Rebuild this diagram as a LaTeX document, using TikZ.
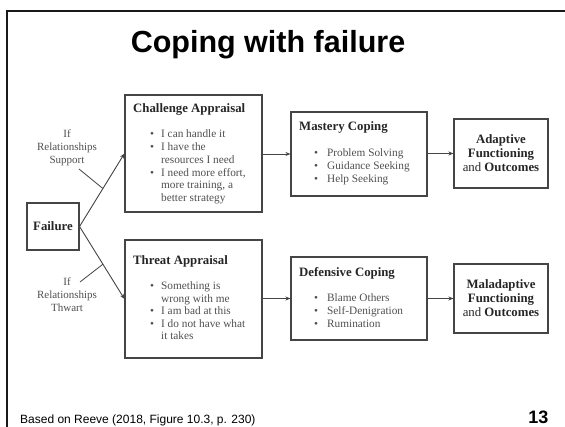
\documentclass[tikz,border=0pt]{standalone}
\usepackage{fontspec}
\setmainfont{Liberation Serif}
\newfontfamily\headsans{Liberation Sans}
\usetikzlibrary{arrows.meta}
\definecolor{inkdark}{HTML}{262626}
\definecolor{inkgray}{HTML}{505050}
\definecolor{boxline}{HTML}{454545}
\tikzset{
  frameline/.style={line width=2pt, draw=black!90},
  stagebox/.style={draw=boxline, line width=1.1pt, inner sep=0pt},
  flowarrow/.style={draw=boxline, line width=0.9pt, -{Stealth[length=5pt,width=4pt]}},
  leader/.style={draw=boxline, line width=0.8pt},
  boxhead/.style={anchor=base west, inner sep=0pt, text=inkdark, font=\fontsize{12.8}{14}\selectfont\bfseries},
  bulletlist/.style={anchor=base west, inner sep=0pt, text=inkgray},
  sidelabel/.style={anchor=base, inner sep=0pt, text=inkgray, align=center, font=\fontsize{11}{13}\selectfont},
  outcome/.style={anchor=base, inner sep=0pt, text=inkdark, align=center, font=\fontsize{12.8}{14}\selectfont},
}
% bullet list: leading, gap after the bullet, rows
\newcommand{\bitems}[3]{{\fontsize{11.3}{#1}\selectfont\begin{tabular}[t]{@{}l@{\hspace{#2}}l@{}}#3\end{tabular}}}
\begin{document}
\begin{tikzpicture}[x=1pt, y=-1pt]
  \useasboundingbox (0,0) rectangle (565,427);
  \fill[white] (0,0) rectangle (565,427);

  % slide frame: top rule and left rule
  \draw[frameline] (7,11) -- (566,11);
  \draw[frameline] (7,10) -- (7,428);

  % title and footer
  \node[anchor=base, inner sep=0pt, font=\headsans\fontsize{30.5}{34}\selectfont\bfseries] (title) at (268,53) {Coping with failure};
  \node[anchor=base west, inner sep=0pt, font=\headsans\fontsize{12}{14}\selectfont] (source) at (20,424) {Based on Reeve (2018, Figure 10.3, p. 230)};
  \node[anchor=base east, inner sep=0pt, font=\headsans\fontsize{18}{20}\selectfont\bfseries] (pageno) at (548.5,424) {13};

  % boxes
  \node[stagebox, minimum width=52pt, minimum height=47pt] (fail) at (53,226.5) {};
  \node[stagebox, minimum width=137pt, minimum height=117pt] (chal) at (193.5,153.5) {};
  \node[stagebox, minimum width=137pt, minimum height=118pt] (thr) at (193.5,299) {};
  \node[stagebox, minimum width=136pt, minimum height=84pt] (mast) at (359,154) {};
  \node[stagebox, minimum width=136pt, minimum height=83pt] (def) at (359,298.5) {};
  \node[stagebox, minimum width=94pt, minimum height=69pt] (adap) at (501,153.5) {};
  \node[stagebox, minimum width=94pt, minimum height=69pt] (mal) at (501,298.5) {};

  % box contents
  \node[boxhead, anchor=base] (failtxt) at (53,231) {Failure};

  \node[boxhead] (chalhead) at (133,113) {Challenge Appraisal};
  \node[bulletlist] (challist) at (150,138) {\bitems{12.7}{7pt}{%
    \textbullet & I can handle it\\
    \textbullet & I have the\\
                & resources I need\\
    \textbullet & I need more effort,\\
                & more training, a\\
                & better strategy}};

  \node[boxhead] (thrhead) at (133,265) {Threat Appraisal};
  \node[bulletlist] (thrlist) at (150,290) {\bitems{12.5}{7pt}{%
    \textbullet & Something is\\
                & wrong with me\\
    \textbullet & I am bad at this\\
    \textbullet & I do not have what\\
                & it takes}};

  \node[boxhead] (masthead) at (299,131) {Mastery Coping};
  \node[bulletlist] (mastlist) at (314,156.5) {\bitems{12.9}{9pt}{%
    \textbullet & Problem Solving\\
    \textbullet & Guidance Seeking\\
    \textbullet & Help Seeking}};

  \node[boxhead] (defhead) at (299,277) {Defensive Coping};
  \node[bulletlist] (deflist) at (314,302) {\bitems{12.9}{9pt}{%
    \textbullet & Blame Others\\
    \textbullet & Self-Denigration\\
    \textbullet & Rumination}};

  % multi-line nodes are placed by the baseline of their last line
  \node[outcome] (adaptxt) at (501,172) {\textbf{Adaptive}\\ \textbf{Functioning}\\ and \textbf{Outcomes}};
  \node[outcome] (maltxt) at (501,316.5) {\textbf{Maladaptive}\\ \textbf{Functioning}\\ and \textbf{Outcomes}};

  % relationship labels
  \node[sidelabel] (support) at (67,164) {If\\Relationships\\Support};
  \node[sidelabel] (thwart) at (67,312) {If\\Relationships\\Thwart};

  % connectors
  \draw[flowarrow] (fail.east) -- (chal.west) coordinate[pos=0.52] (suppat);
  \draw[flowarrow] (fail.east) -- (thr.west) coordinate[pos=0.52] (thwat);
  \draw[flowarrow] (chal.east |- mast.west) -- (mast.west);
  \draw[flowarrow] (mast.east |- adap.west) -- (adap.west);
  \draw[flowarrow] (thr.east |- def.west) -- (def.west);
  \draw[flowarrow] (def.east |- mal.west) -- (mal.west);

  % label leaders
  \coordinate (suppfrom) at (79,169);
  \coordinate (thwfrom) at (80,282);
  \draw[leader] (suppfrom) -- (suppat);
  \draw[leader] (thwfrom) -- (thwat);
\end{tikzpicture}
\end{document}
